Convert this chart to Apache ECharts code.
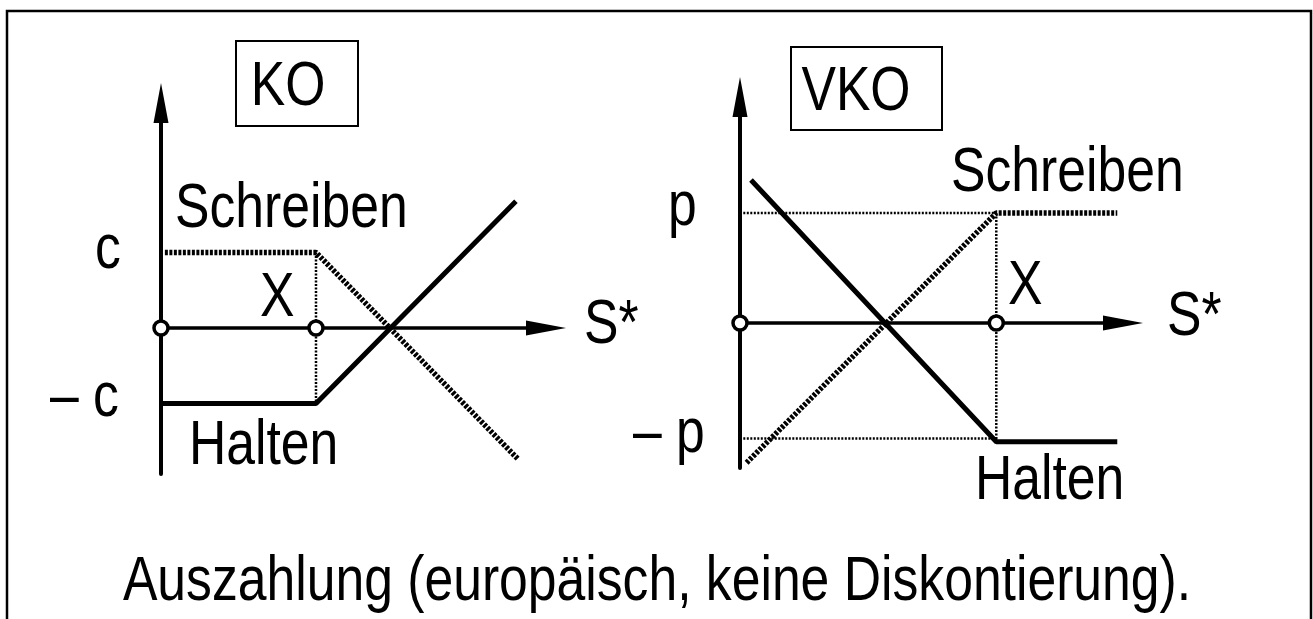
<!DOCTYPE html>
<html>
<head>
<meta charset="utf-8">
<script src="https://cdn.jsdelivr.net/npm/echarts@6/dist/echarts.min.js"></script>
<style>
  html, body { margin: 0; padding: 0; background: #fff; }
  #chart { width: 1313px; height: 619px; }
</style>
</head>
<body>
<div id="chart"></div>
<script>
// KO (links): Auszahlung in Einheiten von c, Basispreis X = 2
const koHalten = [[0, -1], [2, -1], [4.58, 1.68]]
const koSchreiben = [[0.05, 1], [2, 1], [4.61, -1.74]]
const koStrike = [[2, 1], [2, -1]]
const koPoints = [[0, 0], [2, 0]]

// VKO (rechts): Auszahlung in Einheiten von p, Basispreis X = 2.33
const vkoHalten = [[0.1, 1.3], [2.33, -1.08], [3.43, -1.08]]
const vkoSchreiben = [[0.06, -1.27], [2.33, 1], [3.43, 1]]
const vkoLevelP = [[0.03, 1], [2.33, 1]]
const vkoLevelMinusP = [[0.03, -1.05], [2.33, -1.05]]
const vkoStrike = [[2.33, 1], [2.33, -1.08]]
const vkoPoints = [[0, 0], [2.33, 0]]

// schmale Schrift (Arial Narrow) – falls nicht installiert, Liberation Sans gestaucht
const ctx = document.createElement('canvas').getContext('2d')
ctx.font = '63px "Liberation Sans Narrow", monospace'
const wTest = ctx.measureText('Schreiben').width
ctx.font = '63px monospace'
const wMono = ctx.measureText('Schreiben').width
const narrow = Math.abs(wTest - wMono) > 1
const FONT = narrow ? '"Liberation Sans Narrow", sans-serif' : '"Liberation Sans", sans-serif'
const SX = narrow ? 1 : 0.82

const txt = (text, x, y, align) => ({
  type: 'text', x, y, scaleX: SX, silent: true,
  style: { text, fontSize: 63, fontFamily: FONT, fill: '#000', align: align || 'left', verticalAlign: 'middle' }
})
const box = (x, y, w, h) => ({
  type: 'rect', silent: true,
  shape: { x, y, width: w, height: h },
  style: { fill: 'none', stroke: '#000', lineWidth: 2 }
})

const axis = (grid, min, max, width) => ({
  gridIndex: grid, type: 'value', min, max,
  axisLine: { show: true, onZero: true, symbol: ['none', 'triangle'], symbolSize: [15, 40], lineStyle: { color: '#000', width } },
  axisTick: { show: false }, axisLabel: { show: false }, splitLine: { show: false }
})

const line = (i, data, width, dash) => ({
  type: 'line', xAxisIndex: i, yAxisIndex: i, data, symbol: 'none', silent: true,
  lineStyle: { color: '#000', width, type: dash || 'solid', cap: 'butt', opacity: 1 }
})
const dots = (i, data) => ({
  type: 'scatter', xAxisIndex: i, yAxisIndex: i, data, symbol: 'circle', symbolSize: 14, z: 5, silent: true,
  itemStyle: { color: '#fff', borderColor: '#000', borderWidth: 3.5, opacity: 1 }
})

let myChart = echarts.init(document.getElementById('chart'))
myChart.setOption({
  animation: false,
  backgroundColor: '#fff',
  grid: [
    { left: 161, top: 103, width: 385, height: 371 },
    { left: 740, top: 97, width: 383, height: 371 }
  ],
  xAxis: [axis(0, 0, 4.968, 3.5), axis(1, 0, 3.482, 3.5)],
  yAxis: [axis(0, -1.934, 2.98, 4), axis(1, -1.318, 2.055, 4)],
  series: [
    line(0, koStrike, 2.5, [2, 1.5]),
    line(0, koHalten, 5),
    line(0, koSchreiben, 5.5, [3, 1.5]),
    dots(0, koPoints),
    line(1, vkoLevelP, 2.5, [2, 1.5]),
    line(1, vkoLevelMinusP, 2.5, [2, 1.5]),
    line(1, vkoStrike, 2.5, [2, 1.5]),
    line(1, vkoHalten, 5),
    line(1, vkoSchreiben, 5.5, [3, 1.5]),
    dots(1, vkoPoints)
  ],
  graphic: [
    { type: 'rect', silent: true, shape: { x: 7, y: 11, width: 1304, height: 700 }, style: { fill: 'none', stroke: '#000', lineWidth: 2.5 } },
    box(236, 41, 122, 85),
    box(791, 47, 151, 83),
    txt('KO', 288, 88, 'center'),
    txt('Schreiben', 175, 210),
    txt('c', 95, 251),
    txt('– c', 50, 399),
    txt('X', 260, 299),
    txt('S*', 584, 326),
    txt('Halten', 189, 447),
    txt('VKO', 856, 93, 'center'),
    txt('Schreiben', 951, 174),
    txt('p', 668, 208),
    txt('– p', 633, 435),
    txt('X', 1008, 287),
    txt('S*', 1167, 318),
    txt('Halten', 975, 482),
    txt('Auszahlung (europäisch, keine Diskontierung).', 657, 583, 'center')
  ]
})
</script>
</body>
</html>
